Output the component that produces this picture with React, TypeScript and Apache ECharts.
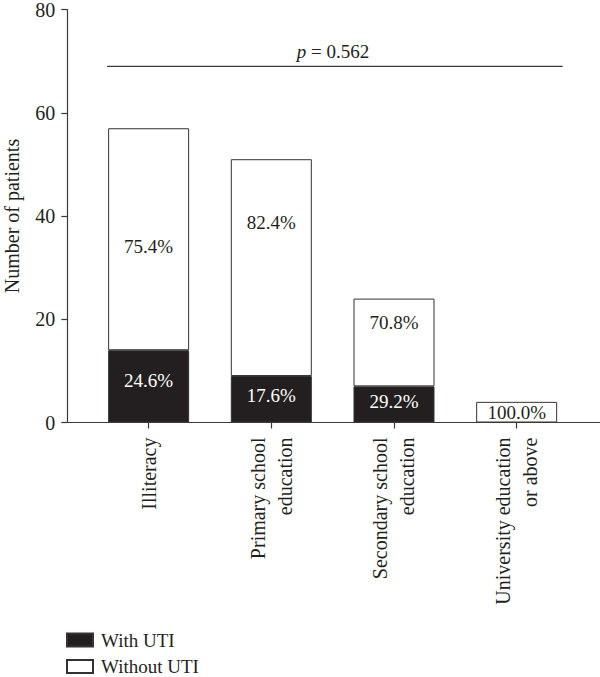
import React, { useEffect, useRef } from "react";
import * as echarts from "echarts";

const categories = [
  "Illiteracy",
  "Primary school\neducation",
  "Secondary school\neducation",
  "University education\nor above",
];
const withUTI = [14, 9, 7, 0];
const withoutUTI = [43, 42, 17, 4];
const yTickMax = 80;
const yTickStep = 20;
const pValueLevel = 69;
const legendNames = ["With UTI", "Without UTI"];

// label vertical nudges (style only)
const whiteLabelOffset = [7, -45, -20, 0];
const darkLabelOffset = [-6, -4, -3, 0];

const FONT = "'Liberation Serif', 'DejaVu Serif', serif";
const INK = "#231f20";
const LINE = "#3a3a3a";

function pct(part: number, i: number) {
  const total = withUTI[i] + withoutUTI[i];
  return ((part / total) * 100).toFixed(1) + "%";
}

export default function App() {
  const ref = useRef<HTMLDivElement>(null);
  useEffect(() => {
    if (!ref.current) return;
    const chart = echarts.init(ref.current, undefined, { renderer: "svg" });
    const option: any = {
      animation: false,
      backgroundColor: "#ffffff",
      textStyle: { fontFamily: FONT },
      grid: {
        left: 87.3,
        right: 22,
        top: 9.5,
        bottom: 254.5,
        containLabel: false,
        outerBoundsMode: "none",
      },
      legend: {
        orient: "vertical",
        left: 66,
        top: 630,
        padding: 0,
        itemWidth: 26,
        itemHeight: 13,
        itemGap: 6.5,
        icon: "rect",
        selectedMode: false,
        textStyle: {
          fontFamily: FONT,
          fontSize: 19,
          color: INK,
          lineHeight: 20,
          padding: [0, 0, 0, 3],
        },
        data: legendNames,
      },
      xAxis: {
        type: "category",
        data: categories,
        axisLine: { show: false },
        axisTick: {
          show: true,
          alignWithLabel: true,
          length: 6,
          lineStyle: { color: LINE, width: 1.2 },
        },
        axisLabel: {
          rotate: 90,
          margin: 15,
          fontFamily: FONT,
          fontSize: 20,
          color: INK,
          lineHeight: 27,
        },
      },
      yAxis: {
        type: "value",
        min: 0,
        max: yTickMax,
        interval: yTickStep,
        offset: 20,
        name: "Number of patients",
        nameLocation: "middle",
        nameRotate: 90,
        nameGap: 45,
        nameTextStyle: { fontFamily: FONT, fontSize: 20, color: INK },
        axisLine: { show: true, lineStyle: { color: LINE, width: 1.2 } },
        axisTick: { show: true, length: 6, lineStyle: { color: LINE, width: 1.2 } },
        axisLabel: { margin: 12, fontFamily: FONT, fontSize: 20, color: INK },
        splitLine: { show: false },
      },
      series: [
        {
          name: legendNames[0],
          type: "bar",
          stack: "total",
          barWidth: 81,
          itemStyle: { color: INK, borderColor: "#333", borderWidth: 1 },
          data: withUTI.map((v, i) => ({
            value: v,
            label: { offset: [0, darkLabelOffset[i]] },
          })),
          label: {
            show: true,
            position: "inside",
            fontFamily: FONT,
            fontSize: 19,
            color: "#ffffff",
            formatter: (p: any) => (p.value > 0 ? pct(p.value, p.dataIndex) : ""),
          },
        },
        {
          name: legendNames[1],
          type: "bar",
          stack: "total",
          barWidth: 81,
          itemStyle: { color: "#ffffff", borderColor: "#333", borderWidth: 1 },
          data: withoutUTI.map((v, i) => ({
            value: v,
            label: { offset: [0, whiteLabelOffset[i]] },
          })),
          label: {
            show: true,
            position: "inside",
            fontFamily: FONT,
            fontSize: 19,
            color: INK,
            formatter: (p: any) => pct(p.value, p.dataIndex),
          },
        },
      ],
    };
    chart.setOption(option);

    const y0 = chart.convertToPixel({ yAxisIndex: 0 }, 0) as number;
    const yp = chart.convertToPixel({ yAxisIndex: 0 }, pValueLevel) as number;
    const xFirst = chart.convertToPixel({ xAxisIndex: 0 }, 0) as number;
    const xLast = chart.convertToPixel({ xAxisIndex: 0 }, categories.length - 1) as number;
    const axisX = 87.3 - 20;
    const pLeft = xFirst - 41.5;
    const pRight = xLast + 46;
    chart.setOption({
      graphic: [
        {
          type: "line",
          shape: { x1: axisX, y1: y0, x2: 600, y2: y0 },
          style: { stroke: LINE, lineWidth: 1.2 },
          z: 10,
        },
        {
          type: "line",
          shape: { x1: pLeft, y1: yp, x2: pRight, y2: yp },
          style: { stroke: LINE, lineWidth: 1.2 },
        },
        {
          type: "text",
          x: (pLeft + pRight) / 2 - 2,
          y: yp - 15,
          style: {
            text: "{i|p} = 0.562",
            fontFamily: FONT,
            fontSize: 19,
            fill: INK,
            align: "center",
            verticalAlign: "middle",
            rich: {
              i: { fontStyle: "italic", fontFamily: FONT, fontSize: 19, fill: INK },
            },
          },
        },
      ],
    });
    return () => chart.dispose();
  }, []);
  return (
    <div
      ref={ref}
      style={{ position: "fixed", left: 0, top: 0, width: 600, height: 677 }}
    />
  );
}
